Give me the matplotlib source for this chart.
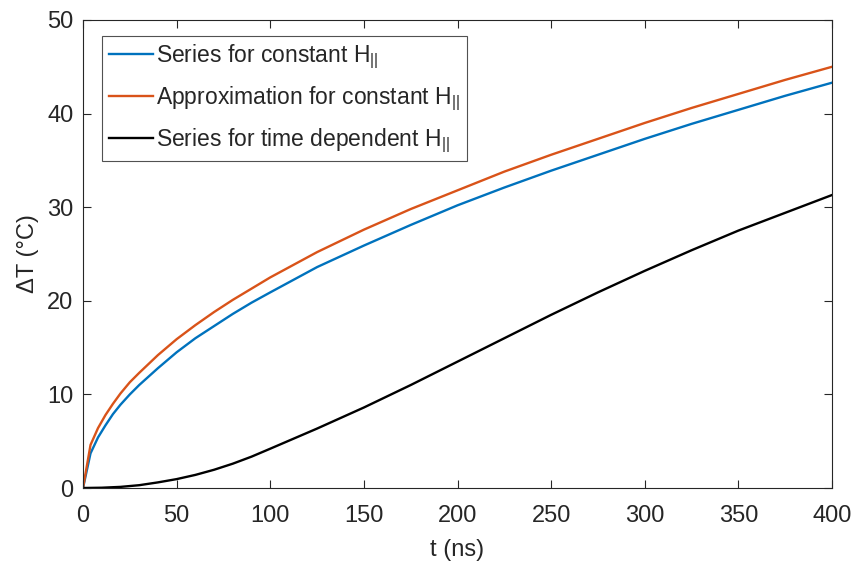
import matplotlib
matplotlib.use("Agg")
import matplotlib.pyplot as plt
import numpy as np

plt.rcParams['font.family'] = ['Liberation Sans', 'DejaVu Sans']
plt.rcParams['mathtext.default'] = 'regular'

# time samples (ns) for the constant-H curves
t_const = [0, 4, 8, 12, 16, 20, 25, 30, 40, 50, 60, 70, 80, 90, 100,
           125, 150, 175, 200, 225, 250, 275, 300, 325, 350, 375, 400]
# series solution, constant H
dT_series = [0, 3.7, 5.4, 6.7, 7.9, 8.9, 10.0, 11.0, 12.8, 14.5, 16.0, 17.3, 18.6, 19.8, 20.9,
             23.6, 25.9, 28.1, 30.2, 32.1, 33.9, 35.6, 37.3, 38.9, 40.4, 41.9, 43.3]
# approximation, constant H
dT_approx = [0, 4.6, 6.4, 7.8, 9.0, 10.1, 11.3, 12.3, 14.2, 15.9, 17.4, 18.8, 20.1, 21.3, 22.5,
             25.2, 27.6, 29.8, 31.8, 33.8, 35.6, 37.3, 39.0, 40.6, 42.1, 43.6, 45.0]

# time samples (ns) for the time dependent curve
t_td = [0, 10, 20, 30, 40, 50, 60, 70, 80, 90, 100,
        125, 150, 175, 200, 225, 250, 275, 300, 325, 350, 375, 400]
dT_td = [0, 0.03, 0.12, 0.3, 0.6, 0.95, 1.4, 1.95, 2.6, 3.35, 4.2,
         6.35, 8.6, 11.0, 13.5, 16.0, 18.5, 20.9, 23.2, 25.4, 27.5, 29.4, 31.3]

labels = [r'Series for constant H$_{||}$',
          r'Approximation for constant H$_{||}$',
          r'Series for time dependent H$_{||}$']

fig = plt.figure(figsize=(8.55, 5.66), dpi=100)
ax = fig.add_axes([0.0971, 0.1378, 0.8760, 0.8269])

ax.plot(t_const, dT_series, color='#0072BD', lw=1.7, label=labels[0])
ax.plot(t_const, dT_approx, color='#D95319', lw=1.7, label=labels[1])
ax.plot(t_td, dT_td, color='black', lw=1.7, label=labels[2])

ax.set_xlim(0, 400)
ax.set_ylim(0, 50)
ax.set_xticks(np.arange(0, 401, 50))
ax.set_yticks(np.arange(0, 51, 10))

grey = '#262626'
ax.tick_params(direction='in', top=True, right=True, length=6, width=0.8,
               labelsize=17, colors=grey)
ax.tick_params(axis='x', pad=12)
ax.tick_params(axis='y', pad=7)
for s in ax.spines.values():
    s.set_color(grey)
    s.set_linewidth(0.8)

ax.set_xlabel('t (ns)', fontsize=17, color=grey, labelpad=9)
ax.set_ylabel('ΔT (°C)', fontsize=17, color=grey, labelpad=6)

leg = ax.legend(loc='upper left', bbox_to_anchor=(0.026, 0.966), borderaxespad=0,
                fontsize=16.5, frameon=True, fancybox=False, handlelength=1.9,
                handletextpad=0.15, labelspacing=0.58, borderpad=0.3)
leg.get_frame().set_edgecolor(grey)
leg.get_frame().set_linewidth(0.8)
for txt in leg.get_texts():
    txt.set_color(grey)

fig.savefig('out.png', dpi=100, facecolor='white')
